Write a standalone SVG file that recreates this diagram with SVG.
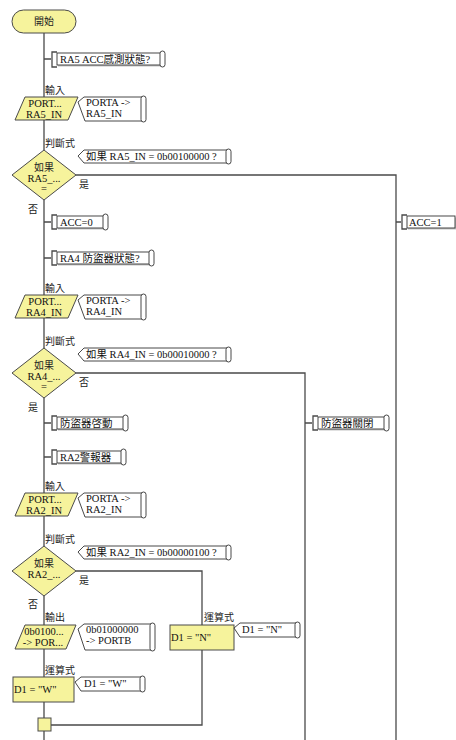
<svg xmlns="http://www.w3.org/2000/svg" width="456" height="740" viewBox="0 0 456 740">
<style>
.ln{fill:none;stroke:#4a4a4a;stroke-width:1.3}
.nd{fill:#f6f39c;stroke:#4a4a4a;stroke-width:1}
.cb{fill:#fff;stroke:#333;stroke-width:0.9}
.sc{fill:#fff;stroke:#333;stroke-width:0.9}
.sh{fill:#c4c4c4}
.t{font-family:"Liberation Serif","Noto Sans CJK TC",serif;font-size:10.5px;fill:#111}
.m{text-anchor:middle}
.lb{font-family:"Noto Sans CJK TC","Liberation Sans",sans-serif;font-size:10px;fill:#222}
</style>
<rect width="456" height="740" fill="#fff"/>
<g id="connectors">
<path class="ln" d="M44,33 V97 M44,120 V150 M44,200 V295 M44,318 V348 M44,398 V493 M44,516 V546 M44,596 V625 M44,649 V677 M44,702 V718 M44,731 V740"/>
<path class="ln" d="M76,175 H396 V740"/>
<path class="ln" d="M76,373 H305 V740"/>
<path class="ln" d="M76,571 H202 V625 M202,650 V725 H51"/>
<text class="lb" x="79" y="188">是</text>
<text class="lb" x="28" y="213">否</text>
<text class="lb" x="79" y="386">否</text>
<text class="lb" x="28" y="411">是</text>
<text class="lb" x="79" y="584">是</text>
<text class="lb" x="28" y="608">否</text>
</g>
<g id="start">
<rect class="nd" x="12" y="10" width="64" height="23" rx="11.5"/>
<text class="lb m" x="44" y="25">開始</text>
</g>
<g id="cm1">
<path class="ln" d="M44,59 H51 M57,52 H52 V67 H57"/>
<rect class="sh" x="58" y="54.5" width="105" height="12"/>
<rect class="cb" x="57" y="53" width="105" height="12"/>
<rect class="sc" x="160" y="51" width="5" height="16" rx="2.5"/>
<text class="t" x="60" y="63">RA5 ACC感測狀態?</text>
</g>
<g id="in1">
<text class="lb" x="45" y="94">輸入</text>
<polygon class="nd" points="25,97 78,97 68,120 15,120"/>
<text class="t m" x="45" y="107">PORT...</text>
<text class="t m" x="44" y="118">RA5_IN</text>
<path class="cb" d="M84,97 L78,102 L85,121 H143 V97 Z"/>
<rect class="sc" x="141" y="96" width="5" height="26" rx="2.5"/>
<text class="t" x="86" y="106">PORTA -&gt;</text>
<text class="t" x="86" y="117">RA5_IN</text>
</g>
<g id="dec1">
<text class="lb" x="45" y="147">判斷式</text>
<polygon class="nd" points="44,150 76,175 44,200 12,175"/>
<text class="lb m" x="44" y="171">如果</text>
<text class="t m" x="44" y="182">RA5_...</text>
<text class="t m" x="44" y="192">=</text>
<path class="cb" d="M84,150 L78,156 L84,163 H228 V150 Z"/>
<rect class="sc" x="226" y="149" width="5" height="15" rx="2.5"/>
<text class="t" x="86" y="160">如果 RA5_IN = 0b00100000 ?</text>
</g>
<g id="cm-acc1">
<path class="ln" d="M396,222 H401 M407,215 H402 V229 H407"/>
<rect class="sh" x="408" y="217.5" width="48" height="12"/>
<rect class="cb" x="407" y="216" width="48" height="12"/>
<text class="t" x="409" y="226">ACC=1</text>
</g>
<g id="cm-acc0">
<path class="ln" d="M44,222 H51 M57,215 H52 V229 H57"/>
<rect class="sh" x="58" y="217.5" width="48" height="12"/>
<rect class="cb" x="57" y="216" width="48" height="12"/>
<rect class="sc" x="103" y="214" width="5" height="16" rx="2.5"/>
<text class="t" x="60" y="226">ACC=0</text>
</g>
<g id="cm2">
<path class="ln" d="M44,258 H51 M57,251 H52 V265 H57"/>
<rect class="sh" x="58" y="253.5" width="94" height="12"/>
<rect class="cb" x="57" y="252" width="94" height="12"/>
<rect class="sc" x="149" y="250" width="5" height="16" rx="2.5"/>
<text class="t" x="60" y="262">RA4 防盜器狀態?</text>
</g>
<g id="in2">
<text class="lb" x="45" y="292">輸入</text>
<polygon class="nd" points="25,295 78,295 68,318 15,318"/>
<text class="t m" x="45" y="305">PORT...</text>
<text class="t m" x="44" y="316">RA4_IN</text>
<path class="cb" d="M84,295 L78,300 L85,319 H143 V295 Z"/>
<rect class="sc" x="141" y="294" width="5" height="26" rx="2.5"/>
<text class="t" x="86" y="304">PORTA -&gt;</text>
<text class="t" x="86" y="315">RA4_IN</text>
</g>
<g id="dec2">
<text class="lb" x="45" y="345">判斷式</text>
<polygon class="nd" points="44,348 76,373 44,398 12,373"/>
<text class="lb m" x="44" y="369">如果</text>
<text class="t m" x="44" y="380">RA4_...</text>
<text class="t m" x="44" y="390">=</text>
<path class="cb" d="M84,348 L78,354 L84,361 H228 V348 Z"/>
<rect class="sc" x="226" y="347" width="5" height="15" rx="2.5"/>
<text class="t" x="86" y="358">如果 RA4_IN = 0b00010000 ?</text>
</g>
<g id="cm-on">
<path class="ln" d="M44,423 H51 M57,416 H52 V430 H57"/>
<rect class="sh" x="58" y="418.5" width="68" height="12"/>
<rect class="cb" x="57" y="417" width="68" height="12"/>
<rect class="sc" x="123" y="415" width="5" height="16" rx="2.5"/>
<text class="t" x="60" y="427">防盜器啓動</text>
</g>
<g id="cm-off">
<path class="ln" d="M305,423 H312 M318,416 H313 V430 H318"/>
<rect class="sh" x="319" y="418.5" width="68" height="12"/>
<rect class="cb" x="318" y="417" width="68" height="12"/>
<rect class="sc" x="384" y="415" width="5" height="16" rx="2.5"/>
<text class="t" x="321" y="427">防盜器關閉</text>
</g>
<g id="cm3">
<path class="ln" d="M44,457 H51 M57,450 H52 V464 H57"/>
<rect class="sh" x="58" y="452.5" width="66" height="12"/>
<rect class="cb" x="57" y="451" width="66" height="12"/>
<rect class="sc" x="121" y="449" width="5" height="16" rx="2.5"/>
<text class="t" x="60" y="461">RA2警報器</text>
</g>
<g id="in3">
<text class="lb" x="45" y="490">輸入</text>
<polygon class="nd" points="25,493 78,493 68,516 15,516"/>
<text class="t m" x="45" y="503">PORT...</text>
<text class="t m" x="44" y="514">RA2_IN</text>
<path class="cb" d="M84,493 L78,498 L85,517 H143 V493 Z"/>
<rect class="sc" x="141" y="492" width="5" height="26" rx="2.5"/>
<text class="t" x="86" y="502">PORTA -&gt;</text>
<text class="t" x="86" y="513">RA2_IN</text>
</g>
<g id="dec3">
<text class="lb" x="45" y="543">判斷式</text>
<polygon class="nd" points="44,546 76,571 44,596 12,571"/>
<text class="lb m" x="44" y="567">如果</text>
<text class="t m" x="44" y="578">RA2_...</text>
<path class="cb" d="M84,546 L78,552 L84,559 H228 V546 Z"/>
<rect class="sc" x="226" y="545" width="5" height="15" rx="2.5"/>
<text class="t" x="86" y="556">如果 RA2_IN = 0b00000100 ?</text>
</g>
<g id="out1">
<text class="lb" x="45" y="621">輸出</text>
<polygon class="nd" points="25,625 76,625 66,649 15,649"/>
<text class="t m" x="44" y="635">0b0100...</text>
<text class="t m" x="43" y="646">-&gt; POR...</text>
<path class="cb" d="M84,624 L78,629 L85,650 H152 V624 Z"/>
<rect class="sc" x="150" y="623" width="5" height="28" rx="2.5"/>
<text class="t" x="86" y="633">0b01000000</text>
<text class="t" x="86" y="644">-&gt; PORTB</text>
</g>
<g id="calcN">
<text class="lb" x="204" y="621">運算式</text>
<rect class="nd" x="170" y="625" width="64" height="25"/>
<text class="t" x="171" y="641">D1 = "N"</text>
<path class="cb" d="M240,623 L234,628 L240,637 H297 V623 Z"/>
<rect class="sc" x="295" y="622" width="5" height="16" rx="2.5"/>
<text class="t" x="242" y="633">D1 = "N"</text>
</g>
<g id="calcW">
<text class="lb" x="45" y="674">運算式</text>
<rect class="nd" x="13" y="677" width="61" height="25"/>
<text class="t" x="14" y="693">D1 = "W"</text>
<path class="cb" d="M81,677 L75,682 L81,691 H142 V677 Z"/>
<rect class="sc" x="140" y="676" width="5" height="16" rx="2.5"/>
<text class="t" x="84" y="687">D1 = "W"</text>
</g>
<g id="join">
<rect class="nd" x="38" y="718" width="13" height="13"/>
</g>
</svg>
